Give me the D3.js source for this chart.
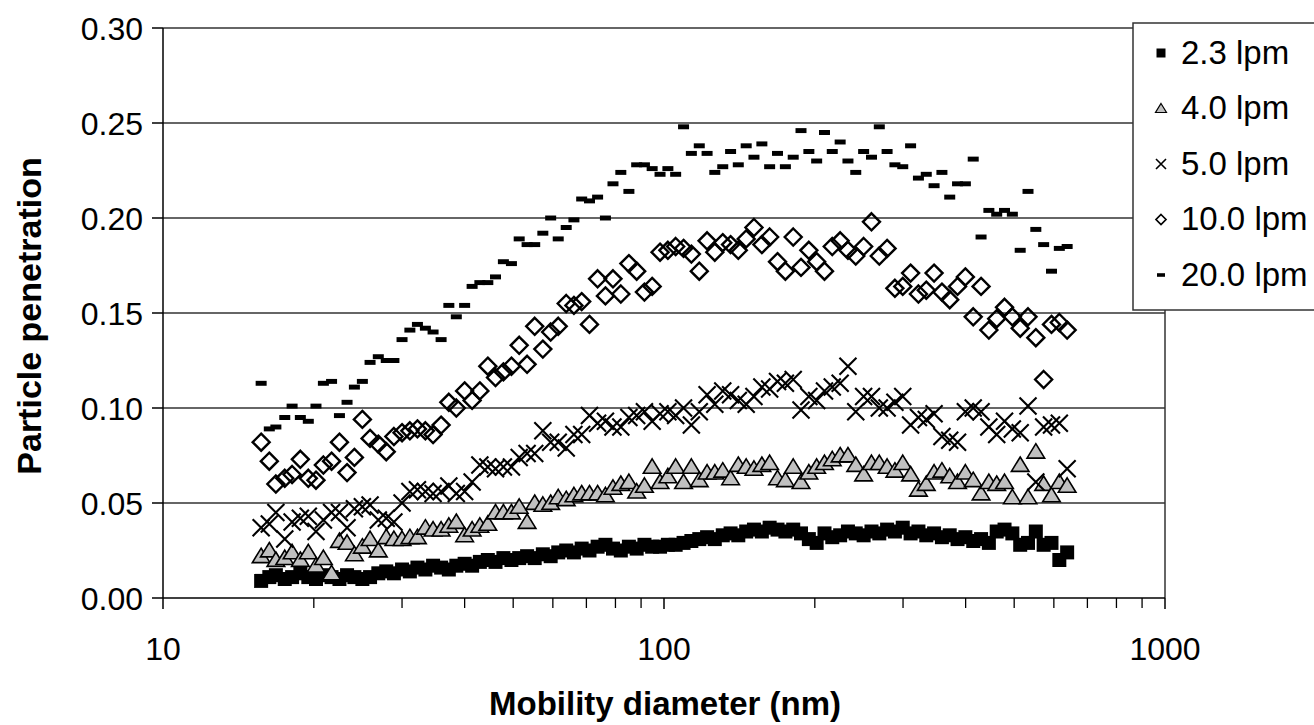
<!DOCTYPE html>
<html>
<head>
<meta charset="utf-8">
<script src="https://cdn.jsdelivr.net/npm/d3@7"></script>
<style>
  body { margin: 0; background: #fff; }
  svg { display: block; }
  text { font-family: "Liberation Sans", Arial, sans-serif; fill: #000; }
</style>
</head>
<body>
<script>
const width = 1314, height = 725;

// SMPS channel midpoints (nm)
const diameters = [15.7, 16.3, 16.8, 17.5, 18.1, 18.8, 19.5, 20.2, 20.9, 21.7,
  22.5, 23.3, 24.1, 25.0, 25.9, 26.9, 27.9, 28.9, 30.0, 31.1,
  32.2, 33.4, 34.6, 35.9, 37.2, 38.5, 40.0, 41.4, 42.9, 44.5,
  46.1, 47.8, 49.6, 51.4, 53.3, 55.2, 57.3, 59.4, 61.5, 63.8,
  66.1, 68.5, 71.0, 73.7, 76.4, 79.1, 82.0, 85.1, 88.2, 91.4,
  94.7, 98.2, 101.8, 105.5, 109.4, 113.4, 117.6, 121.9, 126.3, 131.0,
  135.8, 140.7, 145.9, 151.2, 156.8, 162.5, 168.5, 174.7, 181.1, 187.7,
  194.6, 201.7, 209.1, 216.7, 224.7, 232.9, 241.4, 250.3, 259.5, 269.0,
  278.8, 289.0, 299.6, 310.6, 322.0, 333.8, 346.0, 358.7, 371.8, 385.4,
  399.5, 414.2, 429.4, 445.1, 461.4, 478.3, 495.8, 514.0, 532.8, 552.3,
  572.5, 593.5, 615.3, 637.8];

const lpm2_3 = [0.009, 0.011, 0.012, 0.010, 0.011, 0.013, 0.011, 0.010, 0.012, 0.011,
  0.010, 0.012, 0.011, 0.010, 0.011, 0.013, 0.014, 0.013, 0.015, 0.014,
  0.016, 0.015, 0.017, 0.016, 0.015, 0.017, 0.018, 0.017, 0.019, 0.020,
  0.019, 0.021, 0.020, 0.021, 0.022, 0.021, 0.023, 0.022, 0.024, 0.025,
  0.024, 0.026, 0.025, 0.027, 0.028, 0.026, 0.025, 0.027, 0.026, 0.028,
  0.027, 0.027, 0.028, 0.028, 0.029, 0.030, 0.031, 0.032, 0.031, 0.033, 0.034,
  0.033, 0.035, 0.036, 0.035, 0.037, 0.036, 0.035, 0.036, 0.034, 0.031,
  0.029, 0.034, 0.032, 0.033, 0.035, 0.034, 0.033, 0.035, 0.034, 0.036,
  0.035, 0.037, 0.034, 0.035, 0.033, 0.034, 0.032, 0.033, 0.031, 0.032,
  0.030, 0.031, 0.029, 0.035, 0.036, 0.034, 0.028, 0.029, 0.035, 0.028,
  0.029, 0.020, 0.024];

const lpm4_0 = [0.022, 0.025, 0.020, 0.021, 0.024, 0.020, 0.024, 0.017, 0.021, 0.013,
  0.030, 0.029, 0.023, 0.027, 0.031, 0.025, 0.032, 0.031, 0.031, 0.032,
  0.032, 0.037, 0.036, 0.036, 0.038, 0.040, 0.033, 0.036, 0.038, 0.039,
  0.045, 0.045, 0.045, 0.048, 0.040, 0.050, 0.049, 0.050, 0.053, 0.052,
  0.054, 0.055, 0.055, 0.055, 0.054, 0.058, 0.060, 0.061, 0.056, 0.059,
  0.069, 0.061, 0.064, 0.069, 0.061, 0.069, 0.062, 0.066, 0.066, 0.067, 0.063,
  0.070, 0.069, 0.068, 0.070, 0.071, 0.063, 0.062, 0.069, 0.061, 0.066,
  0.069, 0.071, 0.073, 0.075, 0.075, 0.070, 0.065, 0.071, 0.071, 0.069,
  0.067, 0.071, 0.065, 0.057, 0.060, 0.066, 0.067, 0.064, 0.061, 0.066,
  0.062, 0.055, 0.061, 0.060, 0.061, 0.053, 0.070, 0.053, 0.077, 0.060,
  0.054, 0.061, 0.059];

const lpm5_0 = [0.037, 0.039, 0.045, 0.031, 0.040, 0.042, 0.043, 0.035, 0.041, 0.045,
  0.045, 0.037, 0.047, 0.048, 0.049, 0.041, 0.042, 0.040, 0.050, 0.056,
  0.057, 0.056, 0.055, 0.056, 0.059, 0.055, 0.056, 0.061, 0.070, 0.069,
  0.068, 0.069, 0.069, 0.074, 0.076, 0.076, 0.088, 0.082, 0.082, 0.079,
  0.086, 0.086, 0.096, 0.092, 0.093, 0.090, 0.090, 0.095, 0.096, 0.098,
  0.093, 0.097, 0.098, 0.096, 0.100, 0.091, 0.098, 0.107, 0.102, 0.109, 0.107,
  0.104, 0.102, 0.106, 0.111, 0.110, 0.114, 0.113, 0.115, 0.099, 0.106,
  0.104, 0.109, 0.111, 0.113, 0.122, 0.098, 0.106, 0.106, 0.100, 0.100,
  0.103, 0.106, 0.091, 0.095, 0.094, 0.097, 0.085, 0.083, 0.082, 0.098,
  0.100, 0.098, 0.090, 0.086, 0.093, 0.089, 0.087, 0.101, 0.061, 0.090,
  0.091, 0.092, 0.068];

const lpm10_0 = [0.082, 0.072, 0.060, 0.063, 0.065, 0.073, 0.063, 0.062, 0.070, 0.072,
  0.082, 0.066, 0.074, 0.094, 0.084, 0.081, 0.077, 0.085, 0.087, 0.088,
  0.089, 0.088, 0.086, 0.091, 0.103, 0.100, 0.109, 0.104, 0.109,
  0.122, 0.116, 0.119, 0.122, 0.133, 0.123, 0.143, 0.131, 0.140, 0.143,
  0.155, 0.154, 0.156, 0.144, 0.168, 0.159, 0.168, 0.160, 0.176, 0.172,
  0.161, 0.164, 0.182, 0.183,
  0.185, 0.184, 0.181, 0.172, 0.188, 0.182, 0.187, 0.186, 0.183, 0.189,
  0.195, 0.186, 0.190, 0.177, 0.172, 0.190, 0.174, 0.183, 0.177, 0.172,
  0.185, 0.188, 0.183, 0.180, 0.185, 0.198, 0.180, 0.184, 0.163, 0.164,
  0.171, 0.160, 0.162, 0.171, 0.161, 0.157, 0.164, 0.169, 0.148, 0.164,
  0.141, 0.147, 0.153, 0.148, 0.142, 0.148, 0.137, 0.115, 0.144, 0.145,
  0.141];

const lpm20_0 = [0.113, 0.089, 0.090, 0.095, 0.101, 0.095, 0.093, 0.101, 0.113, 0.114,
  0.096, 0.103, 0.111, 0.114, 0.124, 0.127, 0.125, 0.125, 0.136, 0.141,
  0.144, 0.142, 0.140, 0.136, 0.154, 0.148, 0.154, 0.164, 0.166, 0.166,
  0.169, 0.177, 0.176, 0.189, 0.186, 0.186, 0.192, 0.200, 0.189, 0.195,
  0.199, 0.210, 0.209, 0.211, 0.200, 0.218, 0.224, 0.214, 0.228, 0.228,
  0.226, 0.223, 0.226,
  0.223, 0.248, 0.234, 0.238, 0.234, 0.224, 0.227, 0.235, 0.228, 0.238,
  0.232, 0.239, 0.227, 0.234, 0.227, 0.232, 0.246, 0.235, 0.230, 0.245,
  0.235, 0.240, 0.230, 0.224, 0.235, 0.232, 0.248, 0.235, 0.228, 0.227,
  0.238, 0.221, 0.223, 0.217, 0.224, 0.211, 0.218, 0.218, 0.231, 0.190,
  0.204, 0.202, 0.204, 0.202, 0.183, 0.214, 0.194, 0.186, 0.172, 0.184,
  0.185];

const seriesNames = ['2.3 lpm', '4.0 lpm', '5.0 lpm', '10.0 lpm', '20.0 lpm'];
const seriesValues = [lpm2_3, lpm4_0, lpm5_0, lpm10_0, lpm20_0];
const markerTypes = ['square', 'triangle', 'cross', 'diamond', 'dash'];

const yTicks = [0, 0.05, 0.10, 0.15, 0.20, 0.25, 0.30];
const xMajorTicks = [10, 100, 1000];
const xMinorTicks = [20, 30, 40, 50, 60, 70, 80, 90, 200, 300, 400, 500, 600, 700, 800, 900];

const x = d3.scaleLog().domain([10, 1000]).range([163, 1165]);
const y = d3.scaleLinear().domain([0, 0.30]).range([598, 28]);

// marker path centred on 0,0
function markerPath(type, s) {
  if (type === 'square') return `M${-s},${-s}H${s}V${s}H${-s}Z`;
  if (type === 'triangle') return `M0,${-s}L${s * 1.1},${s * 0.8}L${-s * 1.1},${s * 0.8}Z`;
  if (type === 'diamond') return `M0,${-s}L${s},0L0,${s}L${-s},0Z`;
  if (type === 'cross') return `M${-s},${-s}L${s},${s}M${-s},${s}L${s},${-s}`;
  return `M${-s},${-s * 0.45}H${s}V${s * 0.45}H${-s}Z`;
}
const markerStyle = {
  square: { size: 7, fill: '#000', stroke: 'none', sw: 0 },
  triangle: { size: 8, fill: '#c0c0c0', stroke: '#000', sw: 1.6 },
  cross: { size: 8.5, fill: 'none', stroke: '#000', sw: 2.1 },
  diamond: { size: 8.5, fill: 'none', stroke: '#000', sw: 2.4 },
  dash: { size: 5.5, fill: '#000', stroke: 'none', sw: 0 }
};

const svg = d3.select('body').append('svg')
  .attr('width', width).attr('height', height)
  .style('background-color', '#fff');

// gridlines
svg.append('g').selectAll('line')
  .data(yTicks.filter(d => d > 0))
  .enter().append('line')
  .attr('x1', x(10)).attr('x2', x(1000))
  .attr('y1', d => y(d)).attr('y2', d => y(d))
  .attr('stroke', '#333').attr('stroke-width', 1.5);

// right border of plot area
svg.append('line')
  .attr('x1', x(1000)).attr('x2', x(1000)).attr('y1', y(0.30)).attr('y2', y(0))
  .attr('stroke', '#333').attr('stroke-width', 1.5);

// y axis
const yAxis = svg.append('g');
yAxis.append('line')
  .attr('x1', x(10)).attr('x2', x(10)).attr('y1', y(0.30)).attr('y2', y(0))
  .attr('stroke', '#000').attr('stroke-width', 1.5);
yAxis.selectAll('.tick').data(yTicks).enter().append('line')
  .attr('x1', x(10) - 11).attr('x2', x(10))
  .attr('y1', d => y(d)).attr('y2', d => y(d))
  .attr('stroke', '#000').attr('stroke-width', 1.5);
yAxis.selectAll('text').data(yTicks).enter().append('text')
  .attr('x', 143).attr('y', d => y(d))
  .attr('dy', '0.36em')
  .attr('text-anchor', 'end')
  .style('font-size', '32px')
  .text(d => d3.format('.2f')(d));

// x axis
const xAxis = svg.append('g');
xAxis.append('line')
  .attr('x1', x(10)).attr('x2', x(1000)).attr('y1', y(0)).attr('y2', y(0))
  .attr('stroke', '#000').attr('stroke-width', 1.5);
xAxis.selectAll('.major').data(xMajorTicks).enter().append('line')
  .attr('x1', d => x(d)).attr('x2', d => x(d))
  .attr('y1', y(0)).attr('y2', y(0) + 11)
  .attr('stroke', '#000').attr('stroke-width', 1.5);
xAxis.selectAll('.minor').data(xMinorTicks).enter().append('line')
  .attr('x1', d => x(d)).attr('x2', d => x(d))
  .attr('y1', y(0)).attr('y2', y(0) + 10)
  .attr('stroke', '#000').attr('stroke-width', 1.3);
xAxis.selectAll('text').data(xMajorTicks).enter().append('text')
  .attr('x', d => x(d)).attr('y', 660)
  .attr('text-anchor', 'middle')
  .style('font-size', '32px')
  .text(d => d);

// axis titles
svg.append('text')
  .attr('x', 665).attr('y', 715)
  .attr('text-anchor', 'middle')
  .style('font-size', '33px').style('font-weight', 'bold')
  .text('Mobility diameter (nm)');
svg.append('text')
  .attr('transform', 'translate(41,316) rotate(-90)')
  .attr('text-anchor', 'middle')
  .style('font-size', '34px').style('font-weight', 'bold')
  .text('Particle penetration');

// the points
seriesValues.forEach(function (vals, k) {
  const type = markerTypes[k];
  const st = markerStyle[type];
  const pts = vals.map((v, i) => ({ d: diameters[i], v: v })).filter(p => p.v != null);
  svg.append('g').selectAll('path')
    .data(pts)
    .enter().append('path')
    .attr('transform', p => `translate(${x(p.d)},${y(p.v)})`)
    .attr('d', markerPath(type, st.size))
    .attr('fill', st.fill)
    .attr('stroke', st.stroke)
    .attr('stroke-width', st.sw);
});

// legend
const legend = svg.append('g');
legend.append('rect')
  .attr('x', 1133).attr('y', 23).attr('width', 200).attr('height', 287)
  .attr('fill', '#fff').attr('stroke', '#333').attr('stroke-width', 1.5);
const legendSize = { square: 4.5, triangle: 5, cross: 5, diamond: 5, dash: 4 };
seriesNames.forEach(function (name, k) {
  const type = markerTypes[k];
  const st = markerStyle[type];
  const cy = 52 + k * 55.5;
  legend.append('path')
    .attr('transform', `translate(1161,${cy + 1})`)
    .attr('d', markerPath(type, legendSize[type]))
    .attr('fill', st.fill)
    .attr('stroke', st.stroke)
    .attr('stroke-width', type === 'diamond' ? 1.7 : (type === 'cross' ? 1.6 : (st.sw ? 1.2 : 0)));
  legend.append('text')
    .attr('x', 1181).attr('y', cy)
    .attr('dy', '0.36em')
    .style('font-size', '33px')
    .text(name);
});
</script>
</body>
</html>
